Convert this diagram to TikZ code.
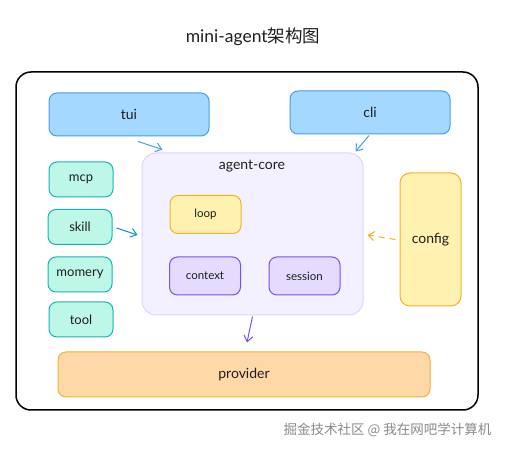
\documentclass[tikz,border=0pt]{standalone}
\usepackage{fontspec}
\setmainfont{Lato}
\newfontfamily\cjk{Noto Sans CJK SC}
\usetikzlibrary{arrows.meta}

\definecolor{ink}{HTML}{1E1E1E}
\definecolor{bluefill}{HTML}{A5D8FF}
\definecolor{blueline}{HTML}{4A9DE6}
\definecolor{tealfill}{HTML}{BDF7E8}
\definecolor{tealline}{HTML}{14B4B0}
\definecolor{corefill}{HTML}{F3F0FF}
\definecolor{coreline}{HTML}{DDD4FA}
\definecolor{yelfill}{HTML}{FFF1B0}
\definecolor{yelline}{HTML}{F0B429}
\definecolor{purfill}{HTML}{E5DBFF}
\definecolor{purline}{HTML}{7950F2}
\definecolor{orfill}{HTML}{FFD8A8}
\definecolor{orline}{HTML}{F5AD3C}
\definecolor{markgray}{HTML}{8A8A8A}

\begin{document}
\begin{tikzpicture}[x=1pt,y=-1pt,
    box/.style={rounded corners=8pt,line width=1pt,text=ink,inner sep=0pt},
    bluebox/.style={box,draw=blueline,fill=bluefill,minimum width=160pt,minimum height=43pt,font=\fontsize{14}{16}\selectfont},
    tealbox/.style={box,draw=tealline,fill=tealfill,minimum width=64pt,minimum height=35pt,font=\fontsize{13}{15}\selectfont},
    innerbox/.style={box,minimum width=71pt,minimum height=38pt,font=\fontsize{11.5}{13}\selectfont},
    arr/.style={line width=1pt,-{Straight Barb[length=6pt,width=9pt]}}]
    \useasboundingbox (0,0) rectangle (507,449);

    \node[text=ink,font=\fontsize{17.5}{20}\selectfont] (title) at (253,37) {mini-agent{\cjk 架构图}};
    \node[draw=black,line width=1.5pt,rounded corners=15pt,minimum width=462pt,minimum height=338pt] (frame) at (247,241) {};

    \node[bluebox] (tui) at (129,114.5) {tui};
    \node[bluebox] (cli) at (370,112.5) {cli};

    \node[tealbox] (mcp) at (81,179.5) {mcp};
    \node[tealbox] (skill) at (80,227) {skill};
    \node[tealbox] (momery) at (80,274.5) {momery};
    \node[tealbox] (tool) at (81,319.5) {tool};

    \node[box,draw=coreline,fill=corefill,rounded corners=14pt,minimum width=221pt,minimum height=162pt] (core) at (252.5,234) {};
    \node[text=ink,font=\fontsize{14}{16}\selectfont] (corename) at (252,166) {agent-core};
    \node[innerbox,draw=yelline,fill=yelfill] (loop) at (205.5,214.5) {loop};
    \node[innerbox,draw=purline,fill=purfill] (context) at (205,276) {context};
    \node[innerbox,draw=purline,fill=purfill] (session) at (304.5,276) {session};

    \node[box,draw=yelline,fill=yelfill,rounded corners=10pt,minimum width=61pt,minimum height=133pt,font=\fontsize{14}{16}\selectfont] (config) at (430.5,239.5) {config};
    \node[box,draw=orline,fill=orfill,minimum width=372pt,minimum height=45pt,font=\fontsize{14}{16}\selectfont] (provider) at (244,374.5) {provider};

    \path ([xshift=9pt,yshift=-5pt]tui.south) edge[arr,blueline] ([xshift=21pt,yshift=3pt]core.north west);
    \path ([xshift=-1pt,yshift=-1pt]cli.south) edge[arr,blueline] ([xshift=-8pt,yshift=1pt]core.north east);
    \path ([xshift=4pt,yshift=-1pt]skill.east) edge[arr,tealline!80!blue] ([xshift=-4pt,yshift=-1pt]core.west);
    \path ([xshift=-4pt]config.west) edge[arr,yelline!90!orange,dash pattern=on 6pt off 5pt] ([xshift=4pt,yshift=-1pt]core.east);
    \path ([yshift=-1pt]core.south) edge[arr,purline] ([xshift=3pt,yshift=9pt]provider.north);

    \node[text=markgray,font=\cjk\fontsize{13.5}{15}\selectfont,anchor=east] (mark) at (495,430) {掘金技术社区 @ 我在网吧学计算机};
\end{tikzpicture}
\end{document}
